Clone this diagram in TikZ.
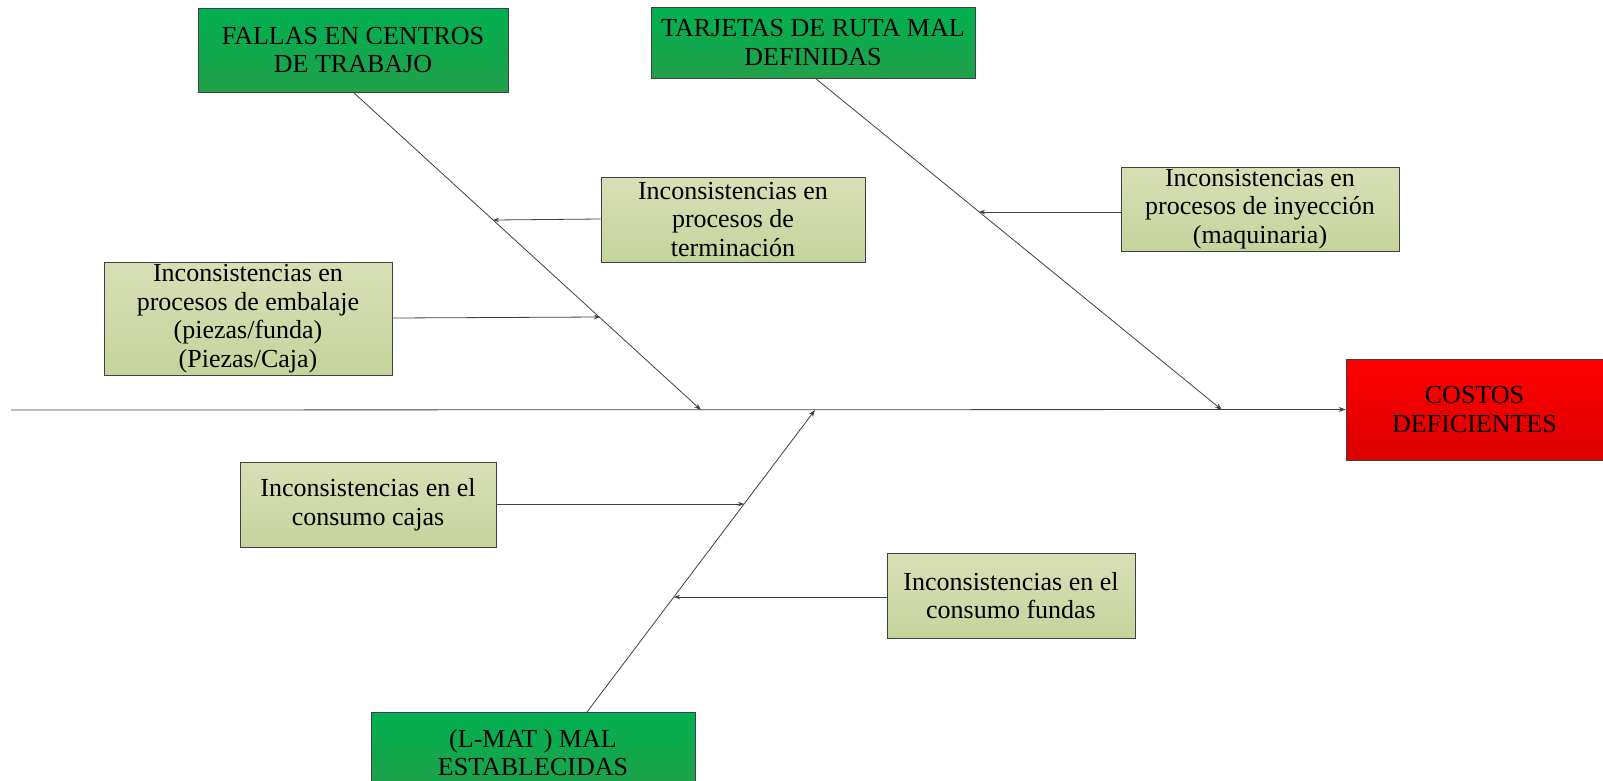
\documentclass[tikz,border=0pt]{standalone}
\usepackage{fontspec}
\setmainfont{Liberation Serif}
\usetikzlibrary{arrows.meta}
\definecolor{gtop}{HTML}{00B050}
\definecolor{gbot}{HTML}{22A04A}
\definecolor{ltop}{HTML}{D8DFB6}
\definecolor{lbot}{HTML}{C5D49C}
\definecolor{rtop}{HTML}{FF0000}
\definecolor{rbot}{HTML}{DA0000}
\definecolor{ln}{HTML}{404040}
\tikzset{
  box/.style={draw=ln, line width=0.7pt, align=center, inner sep=0pt, font=\fontsize{26}{28.5}\selectfont},
  mainbox/.style={box, top color=gtop, bottom color=gbot},
  causebox/.style={box, top color=ltop, bottom color=lbot},
  effectbox/.style={box, top color=rtop, bottom color=rbot},
  bone/.style={draw=ln, line width=0.8pt, -{Stealth[length=7pt,width=5pt]}},
  sub/.style={draw=ln, line width=0.8pt, -{Stealth[length=6pt,width=4.5pt]}}
}
\begin{document}
\begin{tikzpicture}[x=1pt,y=-1pt]
\useasboundingbox (0,0) rectangle (1603,780);
% boxes
\node[mainbox, minimum width=310pt, minimum height=84pt] (fallas) at (353,50) {FALLAS EN CENTROS\\DE TRABAJO};
\node[mainbox, minimum width=324pt, minimum height=71pt] (tarj) at (813,42.5) {TARJETAS DE RUTA MAL\\DEFINIDAS};
\node[mainbox, minimum width=324pt, minimum height=80pt, anchor=north] (lmat) at (533,712) {(L-MAT ) MAL\\ESTABLECIDAS};
\node[effectbox, minimum width=257pt, minimum height=101pt] (costos) at (1474.5,409.5) {COSTOS\\DEFICIENTES};
\node[causebox, minimum width=264pt, minimum height=85pt] (term) at (733,219.5) {Inconsistencias en\\procesos de\\terminación};
\node[causebox, minimum width=278pt, minimum height=84pt] (iny) at (1260,209) {Inconsistencias en\\procesos de inyección\\(maquinaria)};
\node[causebox, minimum width=288pt, minimum height=113pt] (emb) at (248,318.5) {Inconsistencias en\\procesos de embalaje\\(piezas/funda)\\(Piezas/Caja)};
\node[causebox, minimum width=256pt, minimum height=85pt] (cajas) at (368,504.5) {Inconsistencias en el\\consumo cajas};
\node[causebox, minimum width=248pt, minimum height=85pt] (fundas) at (1011,595.5) {Inconsistencias en el\\consumo fundas};
% spine
\coordinate (tail) at (11,410);
\draw[bone] (tail) -- (costos.west);
% bones
\coordinate (b1) at (701,410);
\coordinate (b2) at (1222,410);
\coordinate (b3) at (815,410);
\coordinate (f1) at (353,92);
\coordinate (t1) at (815,78);
\coordinate (l1) at (587,712);
\draw[bone] (f1) -- (b1);
\draw[bone] (t1) -- (b2);
\draw[bone] (l1) -- (b3);
% sub causes
\coordinate (s1) at (493,220);
\coordinate (s2) at (600,317);
\coordinate (s3) at (979,212);
\coordinate (s4) at (744,504);
\coordinate (s5) at (674,597);
\draw[sub] (term.west |- 0,219) -- (s1);
\draw[sub] (emb.east |- 0,318) -- (s2);
\draw[sub] (iny.west |- 0,212) -- (s3);
\draw[sub] (cajas.east |- 0,504) -- (s4);
\draw[sub] (fundas.west |- 0,597) -- (s5);
\end{tikzpicture}
\end{document}
